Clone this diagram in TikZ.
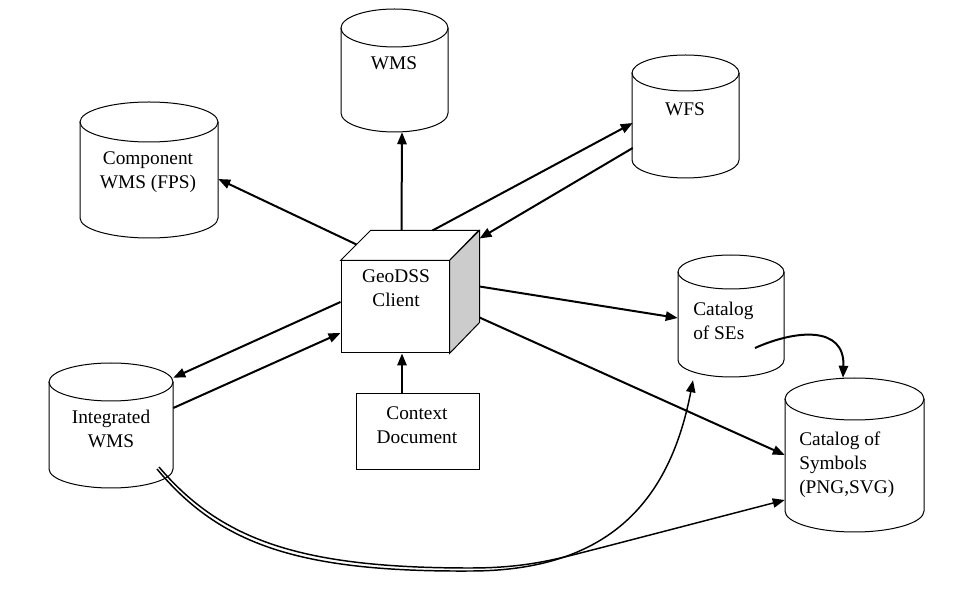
\documentclass[tikz,border=0pt]{standalone}
\usepackage{fontspec}
\setmainfont{Liberation Serif}
\usetikzlibrary{arrows.meta,calc,fit}
\newcommand\dbcyl[6]{%
  \pgfmathsetmacro\cylcx{(#2+#3)/2}%
  \pgfmathsetmacro\cylrx{(#3-#2)/2}%
  \pgfmathsetmacro\cylky{0.5523*#6}%
  \pgfmathsetmacro\cylkx{0.5523*\cylrx}%
  \node[fit={(#2,#4-#6) (#3,#5+#6)}, inner sep=0pt] (#1) {};
  \draw[cylline] (#2,#4) -- (#2,#5) .. controls (#2,#5+\cylky) and (\cylcx-\cylkx,#5+#6) .. (\cylcx,#5+#6)
     .. controls (\cylcx+\cylkx,#5+#6) and (#3,#5+\cylky) .. (#3,#5) -- (#3,#4);
  \draw[cylline] (\cylcx,#4) ellipse [x radius=\cylrx, y radius=#6];
}
\begin{document}
\begin{tikzpicture}[x=0.75pt,y=-0.75pt,
  cylline/.style={line width=0.75pt},
  conn/.style={line width=1.5pt,-{Triangle[length=9pt,width=7pt]}},
  twin/.style={line width=1.1pt,-{Triangle[length=9pt,width=7pt]}},
  lbl/.style={font=\fontsize{14.5}{18}\selectfont, align=center, inner sep=0pt},
  lbll/.style={lbl, align=left, anchor=west}]
\useasboundingbox (0,0) rectangle (968,598);

% cylinders
\dbcyl{cwms}{80}{218}{122}{218}{20}
\dbcyl{wms}{341}{448}{28}{113}{19}
\dbcyl{wfs}{632}{739}{73}{160}{18}
\dbcyl{cse}{678}{784}{272}{360}{17}
\dbcyl{csym}{785}{924}{399}{511}{21}
\dbcyl{iwms}{49}{173}{382}{469}{19}

% cube
\node[draw, line width=0.75pt, fill=white, minimum width=81pt, minimum height=69pt, inner sep=0pt] (cube) at (395,307) {};
\draw[cylline, fill=white] (cube.north west) -- ++(30,-30) -- ++(108,0) -- (cube.north east) -- cycle;
\draw[cylline, fill=gray!40] (cube.north east) -- ++(30,-30) -- ++(0,92) -- (cube.south east) -- cycle;

% context document
\node[draw, line width=0.75pt, minimum width=92.25pt, minimum height=57pt, inner sep=0pt] (ctx) at (417.5,432) {};

% texts
\node[lbl] (cwmst) at (148,172.5) {Component\\WMS (FPS)};
\node[lbl] (wmst) at (394,63) {WMS};
\node[lbl] (wfst) at (685,109) {WFS};
\node[lbl] (cubet) at (396,288.5) {GeoDSS\\Client};
\node[lbl] (ctxt) at (417,425) {Context\\Document};
\node[lbl] (iwmst) at (111,428.5) {Integrated\\WMS};
\node[lbll] (cset) at (693,321) {Catalog\\of SEs};
\node[lbll] (csymt) at (799,464.5) {Catalog of\\Symbols\\(PNG,SVG)};

% connectors
\draw[conn] ($(cube.north west)+(16,-16)$) -- ($(cwms.east)+(0,9)$);
\draw[conn] ($(cube.north west)+(61,-30)$) -- ($(wms.south)+(7.5,0)$);
\draw[conn] ($(cube.north west)+(92,-30)$) -- ($(wfs.west)+(1,6.5)$);
\draw[conn] ($(wfs.west)+(1,31.5)$) -- ($(cube.north east)+(30,-22)$);
\draw[conn] ($(cube.north east)+(30,26)$) -- ($(cse.west)+(0,2)$);
\draw[conn] ($(cube.north east)+(30,57)$) -- (csym.west);
\draw[conn] ($(cube.west)+(0,-5)$) -- ($(iwms.north east)+(0,15)$);
\draw[conn] ($(iwms.east)+(0,-17.5)$) -- ($(cube.west)+(0,26)$);
\draw[conn] ($(ctx.north)+(-15.5,0)$) -- ($(cube.south)+(7,0)$);
\draw[conn] ($(cse.center)+(24,32)$) .. controls (795,330) and (845,325) .. ($(csym.north)+(-11.5,0)$);

\draw[twin] ($(iwms.center)+(46,43.5)$) .. controls (220,545) and (300,572) .. (470,571)
   .. controls (610,571) and (670,500) .. ($(cse.south)+(-38,3)$);
\draw[twin] ($(iwms.center)+(48,41.5)$) .. controls (222,541) and (302,568) .. (470,568)
   .. controls (530,568) and (560,558) .. (600,548) -- ($(csym.west)+(0,45)$);
\end{tikzpicture}
\end{document}
